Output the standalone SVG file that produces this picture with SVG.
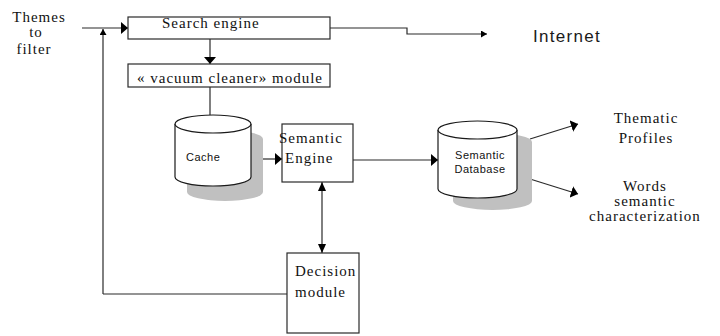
<svg xmlns="http://www.w3.org/2000/svg" width="720" height="336" viewBox="0 0 720 336">
  <style>
    .box { fill: #ffffff; stroke: #2a2a2a; stroke-width: 1.2; }
    .cyl { fill: #ffffff; stroke: #1a1a1a; stroke-width: 1.2; }
    .shadow { fill: #c0c0c0; stroke: none; }
    .line { fill: none; stroke: #2a2a2a; stroke-width: 1.2; }
    .serif { font-family: "Liberation Serif", "Times New Roman", serif; font-size: 15px; fill: #111111; letter-spacing: 1px; }
    .sans { font-family: "Liberation Sans", Arial, sans-serif; font-size: 11px; fill: #111111; letter-spacing: 0.5px; }
    .mid { text-anchor: middle; }
  </style>
  <defs>
    <marker id="head" markerUnits="userSpaceOnUse" markerWidth="8" markerHeight="12" refX="7" refY="6" orient="auto-start-reverse">
      <path d="M0,0 L7,6 L0,12 Z" fill="#000000"/>
    </marker>
    <marker id="headSmall" markerUnits="userSpaceOnUse" markerWidth="7" markerHeight="7" refX="6" refY="3.5" orient="auto-start-reverse">
      <path d="M0,0 L6,3.5 L0,7 Z" fill="#000000"/>
    </marker>
    <marker id="headNarrow" markerUnits="userSpaceOnUse" markerWidth="10" markerHeight="8" refX="9" refY="4" orient="auto-start-reverse">
      <path d="M0,0 L9,4 L0,8 Z" fill="#000000"/>
    </marker>
  </defs>

  <!-- input label -->
  <g id="themes">
    <text class="serif mid" x="39" y="22" font-size="14" letter-spacing="1.5">Themes</text>
    <text class="serif mid" x="36" y="37" font-size="13">to</text>
    <text class="serif mid" x="34" y="54">filter</text>
  </g>

  <g id="internet">
    <text x="533" y="42" font-family="'Liberation Sans', Arial, sans-serif" font-size="17" letter-spacing="1.3" fill="#1a1a1a">Internet</text>
  </g>

  <g id="thematic-profiles">
    <text class="serif mid" x="646" y="123">Thematic</text>
    <text class="serif mid" x="646" y="143">Profiles</text>
  </g>

  <g id="words-characterization">
    <text class="serif mid" x="645" y="191">Words</text>
    <text class="serif mid" x="645" y="206">semantic</text>
    <text class="serif mid" x="645" y="221" letter-spacing="1.3">characterization</text>
  </g>

  <!-- connectors -->
  <g id="connectors">
    <path class="line" d="M82,28 L128,28" marker-end="url(#head)"/>
    <path class="line" d="M103,294 L103,29" marker-end="url(#headSmall)"/>
    <path class="line" d="M103,294 L287,294"/>
    <path class="line" d="M330,28 L407,28 L407,34 L487,34" marker-end="url(#headSmall)"/>
    <path class="line" d="M210,39 L210,64" marker-end="url(#head)"/>
    <path class="line" d="M210,87 L210,115"/>
    <path class="line" d="M262,159 L282,159" marker-end="url(#head)"/>
    <path class="line" d="M353,160 L438,160" marker-end="url(#head)"/>
    <path class="line" d="M322,182 L322,253" marker-start="url(#headNarrow)" marker-end="url(#headNarrow)"/>
    <path class="line" d="M530,139 L578,124" marker-end="url(#head)"/>
    <path class="line" d="M530,179 L578,194" marker-end="url(#head)"/>
  </g>

  <g id="search-engine">
    <rect class="box" x="128" y="17" width="202" height="22"/>
    <text class="serif" x="162" y="28" letter-spacing="0.8">Search engine</text>
  </g>

  <g id="vacuum-cleaner">
    <rect class="box" x="128" y="64" width="202" height="23"/>
    <text class="serif" x="137" y="83">« vacuum cleaner» module</text>
  </g>

  <g id="cache">
    <path class="shadow" transform="translate(12,15)" d="M175,124 A38,9 0 0 1 251,124 L251,177 A38,9 0 0 1 175,177 Z"/>
    <path class="cyl" d="M175,124 A38,9 0 0 1 251,124 L251,177 A38,9 0 0 1 175,177 Z"/>
    <path class="cyl" d="M175,124 A38,9 0 0 0 251,124"/>
    <text class="sans" x="186" y="161">Cache</text>
  </g>

  <g id="semantic-engine">
    <rect class="box" x="282" y="124" width="71" height="58"/>
    <text class="serif" x="279" y="143" letter-spacing="1.2">Semantic</text>
    <text class="serif" x="285" y="163" letter-spacing="1.2">Engine</text>
  </g>

  <g id="semantic-database">
    <path class="shadow" transform="translate(15,12)" d="M438,130 A39.5,9 0 0 1 517,130 L517,189 A39.5,9 0 0 1 438,189 Z"/>
    <path class="cyl" d="M438,130 A39.5,9 0 0 1 517,130 L517,189 A39.5,9 0 0 1 438,189 Z"/>
    <path class="cyl" d="M438,130 A39.5,9 0 0 0 517,130"/>
    <text class="sans mid" x="480" y="159">Semantic</text>
    <text class="sans mid" x="480" y="173">Database</text>
  </g>

  <g id="decision-module">
    <rect class="box" x="287" y="253" width="72" height="80"/>
    <text class="serif" x="295" y="276">Decision</text>
    <text class="serif" x="295" y="297">module</text>
  </g>
</svg>
